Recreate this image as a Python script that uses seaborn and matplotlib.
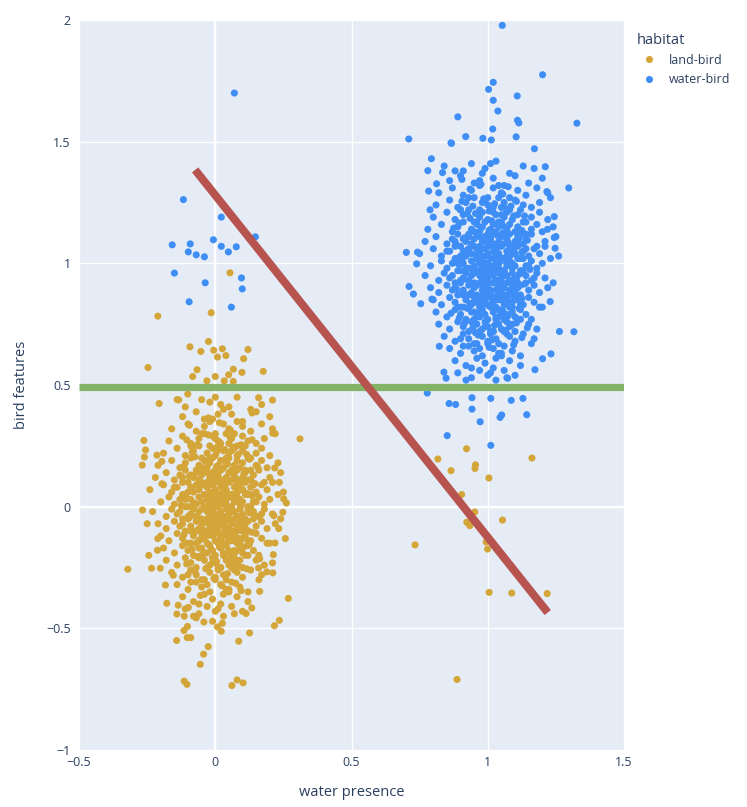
import matplotlib
matplotlib.use('Agg')
import pandas as pd
import matplotlib.pyplot as plt
import seaborn as sns

# %% land-bird points: dense core, band by band
land_core_x = [
    -0.11, -0.05, 0.02, 0.08, 0.13, -0.02, 0.05, -0.14, 0.17, 0.0,
    -0.12, -0.07, -0.01, 0.03, 0.06, 0.1, 0.15, -0.04, 0.2, 0.01,
    -0.16, -0.1, -0.07, -0.04, -0.02, 0.0, 0.03, 0.05, 0.07, 0.1,
    0.13, 0.17, -0.05, 0.08, 0.21,
    -0.17, -0.12, -0.09, -0.06, -0.04, -0.02, -0.01, 0.01, 0.02, 0.04,
    0.06, 0.08, 0.1, 0.12, 0.15, 0.18, 0.22, -0.08, 0.05, 0.0,
    -0.19, -0.14, -0.11, -0.08, -0.06, -0.05, -0.03, -0.01, 0.0, 0.01,
    0.03, 0.04, 0.05, 0.07, 0.08, 0.1, 0.11, 0.13, 0.15, 0.17,
    0.2, -0.02, 0.06, 0.02, -0.09,
    -0.21, -0.16, -0.13, -0.11, -0.09, -0.07, -0.06, -0.04, -0.03, -0.02,
    -0.01, 0.0, 0.01, 0.02, 0.03, 0.04, 0.05, 0.06, 0.07, 0.08,
    0.09, 0.1, 0.12, 0.13, 0.15, 0.17, 0.19, 0.23, -0.05, 0.11,
    -0.22, -0.18, -0.15, -0.13, -0.11, -0.1, -0.08, -0.07, -0.06, -0.05,
    -0.04, -0.03, -0.02, -0.01, 0.0, 0.01, 0.02, 0.03, 0.04, 0.05,
    0.06, 0.07, 0.08, 0.09, 0.1, 0.11, 0.12, 0.14, 0.16, 0.18,
    0.2, 0.24, -0.09, 0.0, 0.04, 0.07, 0.13, -0.03, 0.02, -0.12,
    -0.24, -0.19, -0.16, -0.14, -0.12, -0.11, -0.09, -0.08, -0.07, -0.06,
    -0.05, -0.04, -0.03, -0.02, -0.01, 0.0, 0.0, 0.01, 0.02, 0.03,
    0.03, 0.04, 0.05, 0.06, 0.07, 0.08, 0.09, 0.1, 0.11, 0.12,
    0.13, 0.15, 0.17, 0.19, 0.21, 0.25, -0.1, -0.04, 0.02, 0.06,
    0.1, 0.14, -0.15, 0.08, -0.01,
    -0.2, -0.17, -0.15, -0.13, -0.12, -0.1, -0.09, -0.08, -0.06, -0.05,
    -0.04, -0.03, -0.02, -0.02, -0.01, 0.0, 0.01, 0.01, 0.02, 0.03,
    0.04, 0.04, 0.05, 0.06, 0.07, 0.08, 0.09, 0.09, 0.11, 0.12,
    0.14, 0.16, 0.18, 0.2, 0.23, -0.07, -0.03, 0.0, 0.05, 0.1,
    0.13, -0.11, 0.03, 0.07, 0.15,
    -0.23, -0.18, -0.16, -0.14, -0.12, -0.11, -0.09, -0.08, -0.07, -0.06,
    -0.05, -0.04, -0.03, -0.02, -0.01, 0.0, 0.0, 0.01, 0.02, 0.03,
    0.04, 0.05, 0.05, 0.06, 0.07, 0.08, 0.09, 0.1, 0.11, 0.13,
    0.14, 0.16, 0.18, 0.21, 0.24, -0.1, -0.05, -0.01, 0.02, 0.06,
    0.09, 0.12, -0.13, 0.04, 0.17,
    -0.21, -0.18, -0.15, -0.13, -0.11, -0.1, -0.09, -0.07, -0.06, -0.05,
    -0.04, -0.03, -0.02, -0.01, 0.0, 0.0, 0.01, 0.02, 0.03, 0.04,
    0.05, 0.06, 0.07, 0.07, 0.08, 0.09, 0.1, 0.11, 0.12, 0.14,
    0.15, 0.17, 0.19, 0.22, -0.08, -0.04, 0.01, 0.04, 0.08, 0.12,
    -0.12, -0.02, 0.03, 0.06, 0.1,
    -0.2, -0.17, -0.14, -0.12, -0.1, -0.09, -0.08, -0.06, -0.05, -0.04,
    -0.03, -0.02, -0.01, 0.0, 0.01, 0.02, 0.03, 0.04, 0.05, 0.06,
    0.07, 0.08, 0.09, 0.1, 0.11, 0.13, 0.15, 0.17, 0.2, -0.07,
    -0.03, 0.01, 0.05, 0.09, -0.11, 0.0, 0.04, 0.12, -0.05, 0.03,
    -0.19, -0.15, -0.12, -0.1, -0.08, -0.07, -0.05, -0.04, -0.02, -0.01,
    0.0, 0.01, 0.02, 0.03, 0.04, 0.05, 0.06, 0.08, 0.09, 0.1,
    0.12, 0.14, 0.16, 0.19, -0.06, -0.03, 0.02, 0.07, 0.11, -0.09,
    -0.18, -0.14, -0.11, -0.09, -0.07, -0.05, -0.04, -0.02, -0.01, 0.0,
    0.01, 0.03, 0.04, 0.05, 0.07, 0.08, 0.1, 0.12, 0.15, 0.18,
    -0.06, -0.01, 0.02, 0.06, 0.09,
    -0.16, -0.12, -0.09, -0.07, -0.05, -0.03, -0.02, 0.0, 0.01, 0.03,
    0.04, 0.06, 0.08, 0.1, 0.13, 0.17, -0.04, 0.02, 0.07, -0.1,
    -0.14, -0.1, -0.07, -0.05, -0.02, 0.0, 0.02, 0.04, 0.06, 0.09,
    0.12, 0.16, -0.03, 0.05, -0.09,
    -0.12, -0.08, -0.04, -0.01, 0.02, 0.05, 0.08, 0.12, -0.06, 0.03,
    -0.11, -0.06, -0.03, 0.0, 0.03, 0.06, 0.1, -0.08, 0.01, 0.07,
]
land_core_y = [
    0.41, 0.44, 0.42, 0.45, 0.40, 0.43, 0.41, 0.44, 0.42, 0.45,
    0.37, 0.39, 0.36, 0.40, 0.38, 0.35, 0.39, 0.36, 0.37, 0.38,
    0.32, 0.34, 0.31, 0.33, 0.35, 0.30, 0.34, 0.32, 0.30, 0.33,
    0.31, 0.34, 0.30, 0.35, 0.32,
    0.27, 0.29, 0.26, 0.28, 0.30, 0.25, 0.29, 0.27, 0.26, 0.30,
    0.28, 0.25, 0.29, 0.27, 0.26, 0.28, 0.30, 0.25, 0.26, 0.28,
    0.22, 0.24, 0.21, 0.23, 0.25, 0.20, 0.22, 0.24, 0.21, 0.25,
    0.23, 0.20, 0.22, 0.24, 0.21, 0.23, 0.25, 0.20, 0.22, 0.24,
    0.21, 0.20, 0.23, 0.24, 0.25,
    0.17, 0.19, 0.16, 0.18, 0.20, 0.15, 0.17, 0.19, 0.16, 0.18,
    0.20, 0.15, 0.17, 0.19, 0.16, 0.18, 0.20, 0.15, 0.17, 0.19,
    0.16, 0.18, 0.20, 0.15, 0.17, 0.19, 0.16, 0.18, 0.16, 0.15,
    0.12, 0.14, 0.11, 0.13, 0.15, 0.10, 0.12, 0.14, 0.11, 0.13,
    0.15, 0.10, 0.12, 0.14, 0.11, 0.13, 0.15, 0.10, 0.12, 0.14,
    0.11, 0.13, 0.15, 0.10, 0.12, 0.14, 0.11, 0.13, 0.15, 0.10,
    0.12, 0.14, 0.13, 0.12, 0.10, 0.15, 0.11, 0.14, 0.11, 0.12,
    0.07, 0.09, 0.06, 0.08, 0.10, 0.05, 0.08, 0.06, 0.09, 0.07,
    0.10, 0.05, 0.08, 0.06, 0.09, 0.07, 0.10, 0.05, 0.08, 0.06,
    0.09, 0.07, 0.10, 0.05, 0.08, 0.06, 0.09, 0.07, 0.10, 0.05,
    0.08, 0.06, 0.09, 0.07, 0.10, 0.06, 0.06, 0.09, 0.10, 0.05,
    0.07, 0.09, 0.08, 0.09, 0.06,
    0.02, 0.04, 0.01, 0.03, 0.05, 0.00, 0.03, 0.01, 0.04, 0.02,
    0.05, 0.00, 0.02, 0.04, 0.01, 0.03, 0.05, 0.00, 0.02, 0.04,
    0.01, 0.03, 0.05, 0.00, 0.02, 0.04, 0.01, 0.03, 0.05, 0.00,
    0.02, 0.04, 0.01, 0.03, 0.05, 0.01, 0.03, 0.00, 0.04, 0.02,
    0.05, 0.03, 0.01, 0.04, 0.02,
    -0.02, -0.04, -0.01, -0.03, -0.05, 0.00, -0.03, -0.01, -0.04, -0.02,
    -0.05, 0.00, -0.02, -0.04, -0.01, -0.03, -0.05, 0.00, -0.02, -0.04,
    -0.01, -0.03, -0.05, 0.00, -0.02, -0.04, -0.01, -0.03, -0.05, 0.00,
    -0.02, -0.04, -0.01, -0.03, -0.05, -0.04, -0.01, -0.03, -0.05, -0.02,
    -0.04, -0.01, -0.02, -0.04, -0.03,
    -0.07, -0.09, -0.06, -0.08, -0.10, -0.05, -0.08, -0.06, -0.09, -0.07,
    -0.10, -0.05, -0.08, -0.06, -0.09, -0.07, -0.10, -0.05, -0.08, -0.06,
    -0.09, -0.07, -0.10, -0.05, -0.08, -0.06, -0.09, -0.07, -0.10, -0.05,
    -0.08, -0.06, -0.09, -0.07, -0.10, -0.06, -0.08, -0.09, -0.10, -0.06,
    -0.07, -0.06, -0.05, -0.10, -0.08,
    -0.12, -0.14, -0.11, -0.13, -0.15, -0.10, -0.12, -0.14, -0.11, -0.13,
    -0.15, -0.10, -0.12, -0.14, -0.11, -0.13, -0.15, -0.10, -0.12, -0.14,
    -0.11, -0.13, -0.15, -0.10, -0.12, -0.14, -0.11, -0.13, -0.15, -0.10,
    -0.12, -0.14, -0.11, -0.13, -0.15, -0.10, -0.12, -0.14, -0.13, -0.11,
    -0.17, -0.19, -0.16, -0.18, -0.20, -0.15, -0.17, -0.19, -0.16, -0.18,
    -0.20, -0.15, -0.17, -0.19, -0.16, -0.18, -0.20, -0.15, -0.17, -0.19,
    -0.16, -0.18, -0.20, -0.15, -0.17, -0.19, -0.16, -0.18, -0.20, -0.15,
    -0.22, -0.24, -0.21, -0.23, -0.25, -0.20, -0.22, -0.24, -0.21, -0.23,
    -0.25, -0.20, -0.22, -0.24, -0.21, -0.23, -0.25, -0.20, -0.22, -0.24,
    -0.21, -0.23, -0.25, -0.20, -0.22,
    -0.27, -0.29, -0.26, -0.28, -0.30, -0.25, -0.27, -0.29, -0.26, -0.28,
    -0.30, -0.25, -0.27, -0.29, -0.26, -0.28, -0.30, -0.25, -0.26, -0.28,
    -0.32, -0.34, -0.31, -0.33, -0.35, -0.30, -0.32, -0.34, -0.31, -0.33,
    -0.35, -0.30, -0.32, -0.34, -0.31,
    -0.37, -0.39, -0.36, -0.38, -0.40, -0.35, -0.37, -0.39, -0.40, -0.36,
    -0.42, -0.44, -0.41, -0.43, -0.45, -0.41, -0.43, -0.45, -0.42, -0.44,
]

# extra land-bird points in the solid middle of the cloud
land_dense_x = [
    -0.105, -0.065, -0.025, 0.015, 0.055, 0.095, 0.135, -0.085, 0.035, 0.115,
    -0.115, -0.075, -0.035, 0.005, 0.045, 0.085, 0.125, -0.055, 0.065, 0.155,
    -0.095, -0.045, -0.015, 0.025, 0.075, 0.105, 0.145, -0.125, 0.005, 0.055,
    -0.085, -0.055, -0.005, 0.035, 0.065, 0.115, -0.035, 0.015, 0.085, 0.135,
    -0.075, -0.025, 0.025, 0.045, 0.095, 0.125, -0.105, -0.015, 0.055, 0.075,
    -0.065, -0.035, 0.005, 0.035, 0.085, 0.105, -0.095, -0.045, 0.015, 0.145,
    -0.115, -0.055, -0.005, 0.045, 0.065, 0.115, -0.025, 0.025, 0.095, 0.135,
    -0.085, -0.045, 0.015, 0.055, 0.075, 0.125, -0.065, -0.015, 0.035, 0.105,
    -0.105, -0.035, 0.005, 0.045, 0.085, 0.155, -0.075, -0.005, 0.065, 0.115,
    -0.095, -0.025, 0.025, 0.055, 0.095, 0.135, -0.055, 0.015, 0.075, -0.125,
]
land_dense_y = [
    0.275, 0.255, 0.295, 0.265, 0.285, 0.255, 0.275, 0.225, 0.235, 0.215,
    0.165, 0.205, 0.185, 0.225, 0.175, 0.215, 0.195, 0.155, 0.245, 0.165,
    0.125, 0.145, 0.105, 0.155, 0.115, 0.135, 0.095, 0.125, 0.165, 0.105,
    0.065, 0.085, 0.045, 0.075, 0.035, 0.055, 0.095, 0.025, 0.065, 0.045,
    0.015, -0.015, 0.025, -0.005, 0.005, -0.025, 0.035, 0.005, -0.015, 0.025,
    -0.045, -0.065, -0.035, -0.085, -0.055, -0.075, -0.045, -0.095, -0.065, -0.035,
    -0.115, -0.135, -0.105, -0.145, -0.125, -0.095, -0.155, -0.115, -0.135, -0.105,
    -0.175, -0.195, -0.165, -0.215, -0.185, -0.155, -0.205, -0.175, -0.195, -0.165,
    -0.235, -0.255, -0.225, -0.275, -0.245, -0.215, -0.265, -0.295, -0.235, -0.255,
    0.335, 0.365, -0.325, 0.315, -0.345, 0.385, -0.365, 0.345, -0.315, 0.005,
]

# land-bird points on the edge of the cloud and the strays near x = 1
land_edge_x = [
    -0.093, -0.025, -0.053, -0.006, 0.026, 0.008, 0.039, 0.12, 0.104, -0.247,
    -0.067, 0.066, 0.098, 0.176, 0.049, -0.083, 0.0, -0.031, 0.033, 0.066,
    -0.206, -0.134, -0.101, 0.159, 0.21, -0.262, 0.311, -0.256, -0.26, -0.268,
    -0.214, -0.196, 0.211, 0.218, 0.235, -0.267, -0.25, -0.196, 0.251, 0.261,
    0.215, 0.248, -0.321, -0.244, -0.234, -0.202, -0.212, -0.211, -0.183, -0.178,
    -0.154, -0.136, -0.141, -0.099, -0.114, -0.07, -0.042, -0.01, -0.102, -0.115,
    -0.103, -0.09, -0.142, 0.008, 0.022, 0.026, -0.026, -0.043, -0.055, -0.114,
    -0.104, 0.061, 0.08, 0.102, 0.086, 0.126, 0.217, 0.235, 0.268, 0.257,
    0.233, 0.211, 0.21, 0.134, 0.113, 0.163, 0.159, 0.163, 0.189, 0.213,
    0.219, -0.211, -0.015, 0.054,
    0.922, 0.817, 1.162, 0.865, 0.955, 0.953, 1.004, 0.904, 0.952, 0.923,
    0.934, 1.054, 0.733, 0.994, 0.999, 1.005, 1.088, 1.218, 0.887,
]
land_edge_y = [
    0.657, 0.679, 0.638, 0.643, 0.649, 0.615, 0.621, 0.646, 0.608, 0.572,
    0.563, 0.565, 0.552, 0.556, 0.542, 0.535, 0.535, 0.517, 0.517, 0.515,
    0.424, 0.439, 0.463, 0.448, 0.438, 0.272, 0.279, 0.233, 0.204, 0.171,
    0.212, 0.186, 0.302, 0.159, 0.1, -0.014, -0.07, 0.094, 0.032, 0.015,
    -0.037, -0.023, -0.257, -0.2, -0.253, -0.253, -0.179, -0.131, -0.322, -0.397,
    -0.282, -0.405, -0.441, -0.414, -0.45, -0.457, -0.474, -0.471, -0.492, -0.509,
    -0.538, -0.538, -0.55, -0.494, -0.512, -0.479, -0.575, -0.606, -0.648, -0.717,
    -0.73, -0.735, -0.712, -0.724, -0.553, -0.519, -0.489, -0.467, -0.377, -0.131,
    -0.09, -0.272, -0.231, -0.416, -0.439, -0.348, -0.252, -0.214, -0.268, -0.197,
    -0.149, 0.783, 0.797, 0.961,
    0.238, 0.196, 0.2, 0.148, 0.172, 0.157, 0.118, 0.05, -0.022, -0.064,
    -0.078, -0.055, -0.157, -0.145, -0.174, -0.352, -0.355, -0.357, -0.71,
]

# %% water-bird points: dense core
water_core_x = [
    0.88, 0.94, 0.99, 1.03, 1.08, 1.13, 0.91, 1.01, 1.17, 0.84,
    0.86, 0.9, 0.95, 0.98, 1.02, 1.06, 1.1, 1.15, 0.97, 1.2,
    0.82, 0.87, 0.91, 0.94, 0.97, 1.0, 1.02, 1.05, 1.08, 1.11,
    1.14, 1.18, 0.93, 1.04, 1.22,
    0.81, 0.86, 0.89, 0.92, 0.95, 0.97, 0.99, 1.0, 1.02, 1.04,
    1.06, 1.08, 1.1, 1.13, 1.16, 1.19, 1.23, 0.9, 1.05, 0.98,
    0.8, 0.85, 0.88, 0.91, 0.93, 0.95, 0.97, 0.98, 1.0, 1.01,
    1.03, 1.04, 1.06, 1.07, 1.09, 1.11, 1.12, 1.14, 1.16, 1.19,
    1.22, 0.96, 1.05, 1.02, 0.9,
    0.78, 0.83, 0.87, 0.89, 0.91, 0.93, 0.94, 0.96, 0.97, 0.98,
    0.99, 1.0, 1.01, 1.02, 1.03, 1.04, 1.05, 1.06, 1.07, 1.08,
    1.1, 1.11, 1.13, 1.14, 1.16, 1.18, 1.2, 1.24, 0.95, 1.12,
    0.77, 0.81, 0.85, 0.87, 0.89, 0.9, 0.92, 0.93, 0.94, 0.95,
    0.96, 0.97, 0.98, 0.99, 1.0, 1.01, 1.02, 1.03, 1.04, 1.05,
    1.06, 1.07, 1.08, 1.09, 1.1, 1.11, 1.12, 1.14, 1.16, 1.18,
    1.21, 1.25, 0.91, 1.0, 1.04, 1.07, 1.13, 0.97, 1.02, 0.88,
    0.75, 0.8, 0.83, 0.86, 0.88, 0.89, 0.91, 0.92, 0.93, 0.94,
    0.95, 0.96, 0.97, 0.98, 0.99, 1.0, 1.0, 1.01, 1.02, 1.03,
    1.03, 1.04, 1.05, 1.06, 1.07, 1.08, 1.09, 1.1, 1.11, 1.12,
    1.13, 1.15, 1.17, 1.19, 1.21, 1.26, 0.9, 0.96, 1.02, 1.06,
    1.1, 1.14, 0.85, 1.08, 0.99,
    0.79, 0.83, 0.85, 0.87, 0.88, 0.9, 0.91, 0.92, 0.94, 0.95,
    0.96, 0.97, 0.98, 0.98, 0.99, 1.0, 1.01, 1.01, 1.02, 1.03,
    1.04, 1.04, 1.05, 1.06, 1.07, 1.08, 1.09, 1.09, 1.11, 1.12,
    1.14, 1.16, 1.18, 1.2, 1.23, 0.93, 0.97, 1.0, 1.05, 1.1,
    1.13, 0.89, 1.03, 1.07, 1.15,
    0.77, 0.82, 0.84, 0.86, 0.88, 0.89, 0.91, 0.92, 0.93, 0.94,
    0.95, 0.96, 0.97, 0.98, 0.99, 1.0, 1.0, 1.01, 1.02, 1.03,
    1.04, 1.05, 1.05, 1.06, 1.07, 1.08, 1.09, 1.1, 1.11, 1.13,
    1.14, 1.16, 1.18, 1.21, 1.24, 0.9, 0.95, 0.99, 1.02, 1.06,
    1.09, 1.12, 0.87, 1.04, 1.17,
    0.79, 0.82, 0.85, 0.87, 0.89, 0.9, 0.91, 0.93, 0.94, 0.95,
    0.96, 0.97, 0.98, 0.99, 1.0, 1.0, 1.01, 1.02, 1.03, 1.04,
    1.05, 1.06, 1.07, 1.07, 1.08, 1.09, 1.1, 1.11, 1.12, 1.14,
    1.15, 1.17, 1.19, 1.22, 0.92, 0.96, 1.01, 1.04, 1.08, 1.12,
    0.88, 0.98, 1.03, 1.06, 1.1,
    0.8, 0.83, 0.86, 0.88, 0.9, 0.91, 0.92, 0.94, 0.95, 0.96,
    0.97, 0.98, 0.99, 1.0, 1.01, 1.02, 1.03, 1.04, 1.05, 1.06,
    1.07, 1.08, 1.09, 1.1, 1.11, 1.13, 1.15, 1.17, 1.2, 0.93,
    0.97, 1.01, 1.05, 1.09, 0.89, 1.0, 1.04, 1.12, 0.95, 1.03,
    0.81, 0.85, 0.88, 0.9, 0.92, 0.93, 0.95, 0.96, 0.98, 0.99,
    1.0, 1.01, 1.02, 1.03, 1.04, 1.05, 1.06, 1.08, 1.09, 1.1,
    1.12, 1.14, 1.16, 1.19, 0.94, 0.97, 1.02, 1.07, 1.11, 0.91,
    0.82, 0.86, 0.89, 0.91, 0.93, 0.95, 0.96, 0.98, 0.99, 1.0,
    1.01, 1.03, 1.04, 1.05, 1.07, 1.08, 1.1, 1.12, 1.15, 1.18,
    0.94, 0.99, 1.02, 1.06, 1.09,
    0.84, 0.88, 0.91, 0.93, 0.95, 0.97, 0.98, 1.0, 1.01, 1.03,
    1.04, 1.06, 1.08, 1.1, 1.13, 1.17, 0.96, 1.02, 1.07, 0.9,
    0.86, 0.9, 0.93, 0.95, 0.98, 1.0, 1.02, 1.04, 1.06, 1.09,
    1.12, 1.16, 0.97, 1.05, 0.91,
    0.88, 0.92, 0.96, 0.99, 1.02, 1.05, 1.08, 1.12, 0.94, 1.03,
    0.89, 0.94, 0.97, 1.0, 1.03, 1.06, 1.1, 0.92, 1.01, 1.07,
]
water_core_y = [
    1.38, 1.41, 1.39, 1.42, 1.37, 1.40, 1.38, 1.41, 1.39, 1.40,
    1.34, 1.36, 1.33, 1.37, 1.35, 1.32, 1.36, 1.33, 1.34, 1.35,
    1.29, 1.31, 1.28, 1.30, 1.32, 1.27, 1.31, 1.29, 1.27, 1.30,
    1.28, 1.31, 1.27, 1.32, 1.29,
    1.24, 1.26, 1.23, 1.25, 1.27, 1.22, 1.26, 1.24, 1.23, 1.27,
    1.25, 1.22, 1.26, 1.24, 1.23, 1.25, 1.27, 1.22, 1.23, 1.25,
    1.19, 1.21, 1.18, 1.20, 1.22, 1.17, 1.19, 1.21, 1.18, 1.22,
    1.20, 1.17, 1.19, 1.21, 1.18, 1.20, 1.22, 1.17, 1.19, 1.21,
    1.18, 1.17, 1.20, 1.21, 1.22,
    1.14, 1.16, 1.13, 1.15, 1.17, 1.12, 1.14, 1.16, 1.13, 1.15,
    1.17, 1.12, 1.14, 1.16, 1.13, 1.15, 1.17, 1.12, 1.14, 1.16,
    1.13, 1.15, 1.17, 1.12, 1.14, 1.16, 1.13, 1.15, 1.13, 1.12,
    1.09, 1.11, 1.08, 1.10, 1.12, 1.07, 1.09, 1.11, 1.08, 1.10,
    1.12, 1.07, 1.09, 1.11, 1.08, 1.10, 1.12, 1.07, 1.09, 1.11,
    1.08, 1.10, 1.12, 1.07, 1.09, 1.11, 1.08, 1.10, 1.12, 1.07,
    1.09, 1.11, 1.10, 1.09, 1.07, 1.12, 1.08, 1.11, 1.08, 1.09,
    1.04, 1.06, 1.03, 1.05, 1.07, 1.02, 1.05, 1.03, 1.06, 1.04,
    1.07, 1.02, 1.05, 1.03, 1.06, 1.04, 1.07, 1.02, 1.05, 1.03,
    1.06, 1.04, 1.07, 1.02, 1.05, 1.03, 1.06, 1.04, 1.07, 1.02,
    1.05, 1.03, 1.06, 1.04, 1.07, 1.03, 1.03, 1.06, 1.07, 1.02,
    1.04, 1.06, 1.05, 1.06, 1.03,
    0.99, 1.01, 0.98, 1.00, 1.02, 0.97, 1.00, 0.98, 1.01, 0.99,
    1.02, 0.97, 0.99, 1.01, 0.98, 1.00, 1.02, 0.97, 0.99, 1.01,
    0.98, 1.00, 1.02, 0.97, 0.99, 1.01, 0.98, 1.00, 1.02, 0.97,
    0.99, 1.01, 0.98, 1.00, 1.02, 0.98, 1.00, 0.97, 1.01, 0.99,
    1.02, 1.00, 0.98, 1.01, 0.99,
    0.95, 0.93, 0.96, 0.94, 0.92, 0.97, 0.94, 0.96, 0.93, 0.95,
    0.92, 0.97, 0.95, 0.93, 0.96, 0.94, 0.92, 0.97, 0.95, 0.93,
    0.96, 0.94, 0.92, 0.97, 0.95, 0.93, 0.96, 0.94, 0.92, 0.97,
    0.95, 0.93, 0.96, 0.94, 0.92, 0.93, 0.96, 0.94, 0.92, 0.95,
    0.93, 0.96, 0.95, 0.93, 0.94,
    0.90, 0.88, 0.91, 0.89, 0.87, 0.92, 0.89, 0.91, 0.88, 0.90,
    0.87, 0.92, 0.89, 0.91, 0.88, 0.90, 0.87, 0.92, 0.89, 0.91,
    0.88, 0.90, 0.87, 0.92, 0.89, 0.91, 0.88, 0.90, 0.87, 0.92,
    0.89, 0.91, 0.88, 0.90, 0.87, 0.91, 0.89, 0.88, 0.87, 0.91,
    0.90, 0.91, 0.92, 0.87, 0.89,
    0.85, 0.83, 0.86, 0.84, 0.82, 0.87, 0.85, 0.83, 0.86, 0.84,
    0.82, 0.87, 0.85, 0.83, 0.86, 0.84, 0.82, 0.87, 0.85, 0.83,
    0.86, 0.84, 0.82, 0.87, 0.85, 0.83, 0.86, 0.84, 0.82, 0.87,
    0.85, 0.83, 0.86, 0.84, 0.82, 0.87, 0.85, 0.83, 0.84, 0.86,
    0.80, 0.78, 0.81, 0.79, 0.77, 0.82, 0.80, 0.78, 0.81, 0.79,
    0.77, 0.82, 0.80, 0.78, 0.81, 0.79, 0.77, 0.82, 0.80, 0.78,
    0.81, 0.79, 0.77, 0.82, 0.80, 0.78, 0.81, 0.79, 0.77, 0.82,
    0.75, 0.73, 0.76, 0.74, 0.72, 0.77, 0.75, 0.73, 0.76, 0.74,
    0.72, 0.77, 0.75, 0.73, 0.76, 0.74, 0.72, 0.77, 0.75, 0.73,
    0.76, 0.74, 0.72, 0.77, 0.75,
    0.70, 0.68, 0.71, 0.69, 0.67, 0.72, 0.70, 0.68, 0.71, 0.69,
    0.67, 0.72, 0.70, 0.68, 0.71, 0.69, 0.67, 0.72, 0.71, 0.69,
    0.65, 0.63, 0.66, 0.64, 0.62, 0.67, 0.65, 0.63, 0.66, 0.64,
    0.62, 0.67, 0.65, 0.63, 0.66,
    0.60, 0.58, 0.61, 0.59, 0.57, 0.62, 0.60, 0.58, 0.57, 0.61,
    0.55, 0.53, 0.56, 0.54, 0.52, 0.56, 0.54, 0.52, 0.55, 0.53,
]

# extra water-bird points in the solid middle of the cloud
water_dense_x = [
    0.905, 0.945, 0.985, 1.025, 1.065, 1.105, 0.925, 1.005, 1.085, 1.135,
    0.895, 0.935, 0.975, 1.015, 1.055, 1.095, 1.125, 0.955, 1.045, 0.875,
    0.915, 0.965, 0.995, 1.035, 1.075, 1.115, 0.885, 1.005, 1.055, 1.145,
    0.925, 0.955, 0.995, 1.025, 1.065, 1.095, 0.905, 1.045, 1.085, 1.125,
    0.895, 0.945, 0.985, 1.015, 1.035, 1.075, 1.115, 0.965, 1.005, 1.155,
    0.915, 0.935, 0.975, 1.025, 1.055, 1.105, 0.885, 0.995, 1.045, 1.135,
    0.905, 0.955, 0.985, 1.015, 1.065, 1.085, 0.935, 1.035, 1.095, 1.125,
    0.925, 0.965, 1.005, 1.045, 1.075, 1.115, 0.895, 0.985, 1.055, 0.865,
    0.915, 0.945, 0.995, 1.025, 1.065, 1.105, 0.955, 1.035, 1.085, 1.145,
    0.935, 0.975, 1.015, 1.055, 1.095, 0.905, 0.965, 1.005, 1.075, 1.125,
]
water_dense_y = [
    1.255, 1.235, 1.265, 1.245, 1.225, 1.255, 1.205, 1.215, 1.235, 1.195,
    1.165, 1.185, 1.145, 1.175, 1.155, 1.195, 1.135, 1.205, 1.165, 1.145,
    1.105, 1.125, 1.095, 1.115, 1.085, 1.105, 1.075, 1.135, 1.125, 1.095,
    1.055, 1.035, 1.065, 1.045, 1.025, 1.055, 1.015, 1.075, 1.035, 1.045,
    0.995, 0.975, 1.005, 0.985, 0.965, 0.995, 0.955, 1.015, 0.985, 0.975,
    0.935, 0.915, 0.945, 0.925, 0.905, 0.935, 0.895, 0.955, 0.925, 0.915,
    0.875, 0.855, 0.885, 0.865, 0.845, 0.875, 0.835, 0.895, 0.865, 0.855,
    0.815, 0.795, 0.825, 0.805, 0.785, 0.815, 0.775, 0.835, 0.805, 0.795,
    0.755, 0.735, 0.765, 0.745, 0.725, 0.755, 0.715, 0.775, 0.745, 0.735,
    1.305, 1.325, 0.685, 1.285, 0.665, 1.345, 0.705, 0.655, 1.315, 0.695,
]

# water-bird points on the edge of the cloud and the strays near x = 0
water_edge_x = [
    -0.117, 0.07, 0.022, -0.158, -0.092, -0.099, -0.07, -0.04, -0.007, 0.022,
    0.048, 0.077, 0.147, -0.15, -0.037, 0.096, 0.099, -0.096, 0.059,
    0.778, 0.858, 0.882, 0.942, 0.942, 0.972, 0.851, 1.011, 1.045, 1.051,
    1.143, 1.086, 1.129, 1.011,
    1.053, 1.201, 1.02, 1.003, 1.108, 1.02, 1.037, 0.89, 1.109, 1.114,
    1.327, 1.018, 0.71, 0.919, 0.982, 1.013, 1.104, 0.865,
    1.297, 0.793, 0.78, 0.783, 0.788, 0.701, 0.742, 1.244, 1.244, 1.247,
    1.219, 1.217, 1.211, 1.171, 0.867, 0.812, 0.834,
    0.711, 0.727, 0.754, 0.739, 0.795, 1.263, 1.316, 1.232, 1.173, 1.201,
    1.229, 0.822, 0.839, 0.847, 1.073,
]
water_edge_y = [
    1.262, 1.70, 1.19, 1.076, 1.08, 1.047, 1.035, 1.027, 1.097, 1.07,
    1.047, 1.068, 1.109, 0.96, 0.92, 0.94, 0.895, 0.842, 0.82,
    0.467, 0.424, 0.42, 0.448, 0.401, 0.349, 0.292, 0.252, 0.367, 0.377,
    0.378, 0.437, 0.445, 0.445,
    1.978, 1.775, 1.744, 1.715, 1.688, 1.67, 1.626, 1.602, 1.588, 1.577,
    1.576, 1.552, 1.511, 1.521, 1.514, 1.507, 1.52, 1.495,
    1.31, 1.43, 1.381, 1.297, 1.22, 1.045, 1.046, 1.192, 1.106, 1.062,
    1.14, 1.295, 1.397, 1.471, 1.493, 1.327, 1.373,
    0.905, 0.874, 0.834, 0.998, 0.853, 0.72, 0.719, 0.628, 0.563, 0.608,
    0.843, 0.659, 0.553, 0.528, 0.528,
]

# the two decision lines
red_x = [-0.074, 1.22]
red_y = [1.384, -0.435]
green_x = [-0.5, 1.5]
green_y = [0.49, 0.49]

x_ticks = [-0.5, 0, 0.5, 1, 1.5]
x_tick_labels = ['\u22120.5', '0', '0.5', '1', '1.5']
y_ticks = [-1, -0.5, 0, 0.5, 1, 1.5, 2]
y_tick_labels = ['\u22121', '\u22120.5', '0', '0.5', '1', '1.5', '2']

# %% build the frame
land_x = land_core_x + land_dense_x + land_edge_x
land_y = land_core_y + land_dense_y + land_edge_y
water_x = water_core_x + water_dense_x + water_edge_x
water_y = water_core_y + water_dense_y + water_edge_y

birds = pd.DataFrame({
    'water presence': land_x + water_x,
    'bird features': land_y + water_y,
    'habitat': ['land-bird'] * len(land_x) + ['water-bird'] * len(water_x),
})

# %% plot
sns.set_theme(style='darkgrid')
plt.rcParams['font.family'] = ['Open Sans', 'DejaVu Sans']
text_color = '#2a3f5f'

fig = plt.figure(figsize=(7.47, 8.07), dpi=100)
ax = fig.add_axes([0.1058, 0.0706, 0.7296, 0.9046])
ax.set_facecolor('#E5ECF6')

sns.scatterplot(data=birds, x='water presence', y='bird features', hue='habitat',
                palette={'land-bird': '#D4A63A', 'water-bird': '#3F8EF5'},
                s=26, linewidth=0, ax=ax, zorder=3)

ax.plot(green_x, green_y, color='#82b366', lw=5.2, solid_capstyle='butt', zorder=4)
ax.plot(red_x, red_y, color='#b85450', lw=5.8, solid_capstyle='butt', zorder=5)

ax.set_xlim(-0.5, 1.5)
ax.set_ylim(-1, 2)
ax.set_xticks(x_ticks)
ax.set_xticklabels(x_tick_labels)
ax.set_yticks(y_ticks)
ax.set_yticklabels(y_tick_labels)
ax.grid(True, color='white', lw=1.0)
ax.axvline(0, color='white', lw=1.6, zorder=1)
ax.axhline(0, color='white', lw=1.6, zorder=1)
for side in ax.spines.values():
    side.set_visible(False)
ax.tick_params(length=0, labelsize=9, labelcolor=text_color)
ax.tick_params(axis='x', pad=4)
ax.tick_params(axis='y', pad=6)
ax.set_xlabel('water presence', fontsize=10.5, color=text_color, labelpad=12)
ax.set_ylabel('bird features', fontsize=10.5, color=text_color, labelpad=12)

sns.move_legend(ax, 'upper left', bbox_to_anchor=(1.0, 1.0), frameon=False,
                title='habitat', fontsize=9, title_fontsize=10.5,
                alignment='left', handletextpad=0.6, borderaxespad=0.6)
leg = ax.get_legend()
leg.get_title().set_color(text_color)
for t in leg.get_texts():
    t.set_color(text_color)

fig.savefig('out.png', dpi=100)
